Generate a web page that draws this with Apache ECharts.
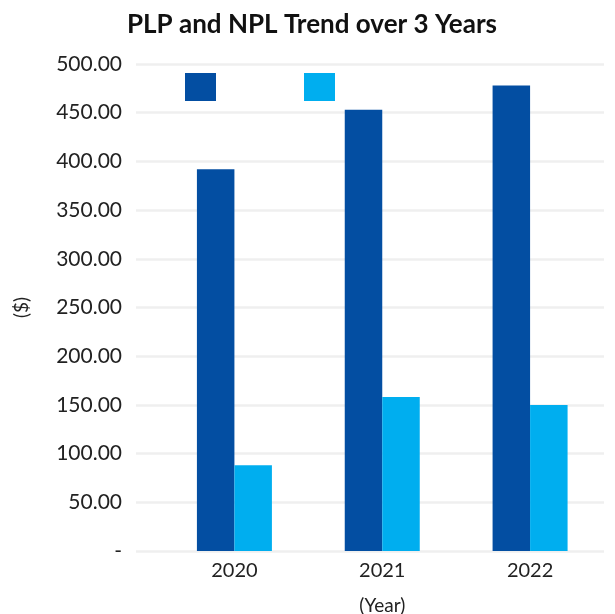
<!DOCTYPE html>
<html>
<head>
<meta charset="utf-8">
<script src="https://cdn.jsdelivr.net/npm/echarts@6/dist/echarts.min.js"></script>
<style>
html,body{margin:0;padding:0;background:#fff;}
#chart{width:615px;height:614px;}
</style>
</head>
<body>
<div id="chart"></div>
<script>
const categories = ['2020', '2021', '2022'];
const plpValues = [392, 453, 478];
const nplValues = [88, 158, 150];
const seriesNames = ['PLP', 'NPL'];
const titleText = 'PLP and NPL Trend over 3 Years';
const yAxisName = '($)';
const xAxisName = '(Year)';

const FONT = 'Lato';
const chart = echarts.init(document.getElementById('chart'));
const gridTop = 64, gridBottom = 63;
chart.setOption({
  animation: false,
  backgroundColor: '#ffffff',
  title: {
    text: titleText,
    left: 122,
    top: 7,
    textStyle: { fontFamily: FONT, fontWeight: 'bold', fontSize: 26, color: '#111' }
  },
  legend: {
    data: seriesNames,
    left: 180,
    top: 68,
    itemWidth: 31,
    itemHeight: 28,
    itemGap: 88,
    icon: 'rect',
    formatter: function () { return ''; },
    selectedMode: false
  },
  grid: [
    { left: 136, right: 11, top: gridTop, bottom: gridBottom, containLabel: false, outerBoundsMode: 'none' },
    { left: 160.5, right: 11, top: gridTop, bottom: gridBottom, containLabel: false, outerBoundsMode: 'none' }
  ],
  xAxis: [
    { gridIndex: 0, type: 'category', data: categories, show: false },
    {
      gridIndex: 1, type: 'category', data: categories,
      axisLine: { show: false }, axisTick: { show: false },
      axisLabel: { fontFamily: FONT, fontSize: 20, color: '#222', margin: 10 },
      name: xAxisName, nameLocation: 'middle', nameGap: 45,
      nameTextStyle: { fontFamily: FONT, fontSize: 19, color: '#222' }
    }
  ],
  yAxis: [
    {
      gridIndex: 0, type: 'value', min: 0, max: 500, interval: 50,
      axisLine: { show: false }, axisTick: { show: false },
      splitLine: { lineStyle: { color: '#efefef', width: 2.5 } },
      axisLabel: {
        fontFamily: FONT, fontSize: 21, color: '#222', margin: 14,
        formatter: function (v) { return v === 0 ? '-' : v.toFixed(2); }
      },
      name: yAxisName, nameLocation: 'middle', nameGap: 105, nameRotate: 90,
      nameTextStyle: { fontFamily: FONT, fontSize: 19, color: '#222' }
    },
    { gridIndex: 1, type: 'value', min: 0, max: 500, interval: 50, show: false }
  ],
  series: [
    {
      name: seriesNames[0], type: 'bar', xAxisIndex: 1, yAxisIndex: 1,
      data: plpValues, barWidth: 37.5, barGap: '0%',
      itemStyle: { color: '#034EA2' }
    },
    {
      name: seriesNames[1], type: 'bar', xAxisIndex: 1, yAxisIndex: 1,
      data: nplValues, barWidth: 37.5, barGap: '0%',
      itemStyle: { color: '#00AEEF' }
    }
  ]
});
</script>
</body>
</html>
